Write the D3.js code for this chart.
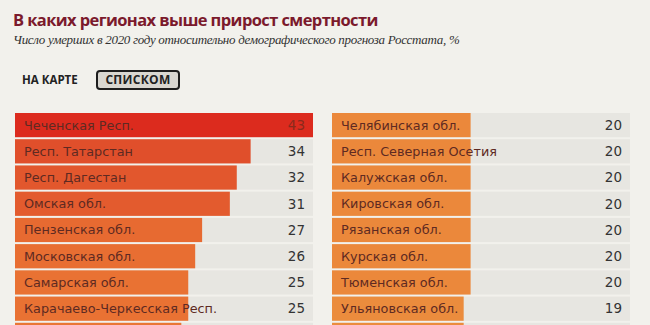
<!DOCTYPE html>
<html>
<head>
<meta charset="utf-8">
<script src="https://cdn.jsdelivr.net/npm/d3@7"></script>
<style>
  body { margin: 0; background: #f2f1ec; overflow: hidden; }
  #chart { width: 650px; height: 325px; }
</style>
</head>
<body>
<div id="chart"></div>
<script>
const title = 'В каких регионах выше прирост смертности'
const subtitle = 'Число умерших в 2020 году относительно демографического прогноза Росстата, %'
const tabs = ['НА КАРТЕ', 'СПИСКОМ']

// first column, last row is cut off at the bottom edge
const regionsLeft = ['Чеченская Респ.', 'Респ. Татарстан', 'Респ. Дагестан', 'Омская обл.',
  'Пензенская обл.', 'Московская обл.', 'Самарская обл.', 'Карачаево-Черкесская Респ.', '']
const valuesLeft = [43, 34, 32, 31, 27, 26, 25, 25, 24]

const regionsRight = ['Челябинская обл.', 'Респ. Северная Осетия', 'Калужская обл.', 'Кировская обл.',
  'Рязанская обл.', 'Курская обл.', 'Тюменская обл.', 'Ульяновская обл.', '']
const valuesRight = [20, 20, 20, 20, 20, 20, 20, 19, 19]

const width = 650
const height = 325

const svg = d3.select('#chart')
  .append('svg')
  .attr('width', width)
  .attr('height', height)

svg.append('text')
  .attr('x', 13)
  .attr('y', 26)
  .attr('fill', '#7b1a2c')
  .style('font', 'bold 16.5px "Open Sans", sans-serif')
  .style('letter-spacing', '-0.6px')
  .text(title)

svg.append('text')
  .attr('x', 13)
  .attr('y', 44)
  .attr('fill', '#333')
  .style('font', 'italic 13px "Liberation Serif", serif')
  .style('letter-spacing', '-0.3px')
  .text(subtitle)

// tab switch
svg.append('text')
  .attr('x', 22)
  .attr('y', 84)
  .attr('fill', '#222')
  .style('font', 'bold 11.5px "Open Sans", sans-serif')
  .text(tabs[0])

svg.append('rect')
  .attr('x', 97)
  .attr('y', 71)
  .attr('width', 82)
  .attr('height', 18)
  .attr('rx', 3)
  .attr('fill', '#d9d7d1')
  .attr('stroke', '#1e1e1e')
  .attr('stroke-width', 2)

svg.append('text')
  .attr('x', 138)
  .attr('y', 84)
  .attr('text-anchor', 'middle')
  .attr('fill', '#222')
  .style('font', 'bold 12px "Open Sans", sans-serif')
  .style('letter-spacing', '0.3px')
  .text(tabs[1])

const colWidth = 298
const x = d3.scaleLinear()
  .domain([0, d3.max(valuesLeft)])
  .range([0, colWidth])

const y = d3.scaleBand()
  .domain(d3.range(valuesLeft.length))
  .range([113, 113 + 26 * valuesLeft.length])
  .paddingInner(2 / 26)
  .align(0)

const color = d3.scaleLinear()
  .domain([19, 25, 34, 43])
  .range(['#eb8c3d', '#e97233', '#e04f2b', '#dc2b1e'])

const columns = [
  { x0: 15, regions: regionsLeft, values: valuesLeft },
  { x0: 332, regions: regionsRight, values: valuesRight }
]

columns.forEach(col => {
  const data = col.values.map((v, i) => ({ i, v, name: col.regions[i] }))
  const g = svg.append('g').attr('transform', `translate(${col.x0},0)`)

  g.selectAll('.track')
    .data(data)
    .join('rect')
    .attr('class', 'track')
    .attr('x', 0)
    .attr('y', d => y(d.i))
    .attr('width', colWidth)
    .attr('height', y.bandwidth())
    .attr('fill', '#e7e6e1')

  g.selectAll('.bar')
    .data(data)
    .join('rect')
    .attr('class', 'bar')
    .attr('x', 0)
    .attr('y', d => y(d.i))
    .attr('width', d => x(d.v))
    .attr('height', y.bandwidth())
    .attr('fill', d => color(d.v))

  g.selectAll('.label')
    .data(data)
    .join('text')
    .attr('class', 'label')
    .attr('x', 9)
    .attr('y', d => y(d.i) + y.bandwidth() / 2)
    .attr('dy', '0.35em')
    .attr('fill', '#5e2a22')
    .style('font', '12.8px "DejaVu Sans", sans-serif')
    .text(d => d.name)

  g.selectAll('.value')
    .data(data)
    .join('text')
    .attr('class', 'value')
    .attr('x', colWidth - 8)
    .attr('y', d => y(d.i) + y.bandwidth() / 2)
    .attr('dy', '0.35em')
    .attr('text-anchor', 'end')
    .attr('fill', d => d.v === d3.max(valuesLeft) ? '#8a2a1c' : '#333')
    .style('font', '13.5px "DejaVu Sans", sans-serif')
    .text(d => d.name ? d.v : '')
})
</script>
</body>
</html>
